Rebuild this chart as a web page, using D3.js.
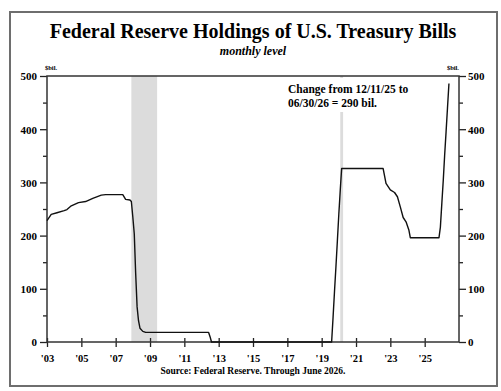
<!DOCTYPE html>
<html>
<head>
<meta charset="utf-8">
<script src="https://cdn.jsdelivr.net/npm/d3@7"></script>
<style>
  body { margin: 0; background: #fff; }
  svg text { font-family: "Liberation Serif", "Times New Roman", serif; font-weight: bold; fill: #000; }
</style>
</head>
<body>
<div id="chart-area"></div>
<script>
// Data -------------------------------------------------
// line vertices (month, $bil.)
const months = [
  "2003-01", "2003-04", "2003-08", "2004-01", "2004-03", "2004-06", "2004-11",
  "2005-04", "2005-09", "2006-03", "2006-06", "2007-06", "2007-08", "2007-11",
  "2007-12", "2008-01", "2008-02", "2008-03", "2008-04", "2008-05", "2008-06",
  "2008-08", "2008-10", "2012-06", "2012-07", "2012-08", "2019-08", "2019-09",
  "2019-10", "2019-11", "2019-12", "2020-01", "2020-02", "2020-03", "2022-08",
  "2022-10", "2023-01", "2023-04", "2023-06", "2023-08", "2023-10", "2023-12",
  "2024-02", "2024-03", "2025-11", "2025-12", "2026-01", "2026-02", "2026-03",
  "2026-04", "2026-05", "2026-06"
]
const holdings = [
  228, 240, 243, 247, 249, 256, 262,
  264, 270, 276, 277, 277, 268, 267,
  264, 235, 203, 130, 66, 40, 26,
  20, 18, 18, 10, 0, 0, 47,
  95, 142, 190, 240, 286, 326, 326,
  298, 286, 281, 273, 254, 234, 226,
  210, 196, 196, 216, 261, 305, 350,
  395, 440, 486
]
// recessions (start, end)
const recessions = [["2007-12", "2009-06"], ["2020-02", "2020-04"]]

const yTicks = [0, 100, 200, 300, 400, 500]
const yMinor = [50, 150, 250, 350, 450]
const xTickYears = [2003, 2005, 2007, 2009, 2011, 2013, 2015, 2017, 2019, 2021, 2023, 2025]

const TITLE = "Federal Reserve Holdings of U.S. Treasury Bills"
const SUBTITLE = "monthly level"
const NOTE = ["Change from 12/11/25 to", "06/30/26 = 290 bil."]
const SOURCE = "Source: Federal Reserve. Through June 2026."

// Canvas setup -----------------------------------------
const W = 501, H = 391
const PLOT = {LEFT: 47, RIGHT: 459, TOP: 76, BOTTOM: 342}

const parse = d3.timeParse("%Y-%m")
const data = months.map((m, i) => ({date: parse(m), value: holdings[i]}))

const svg = d3.select("#chart-area").append("svg")
  .attr("width", W)
  .attr("height", H)

const xScale = d3.scaleTime()
  .domain([new Date(2003, 0, 1), new Date(2027, 0, 1)])
  .range([PLOT.LEFT, PLOT.RIGHT])

const yScale = d3.scaleLinear()
  .domain([0, 500])
  .range([PLOT.BOTTOM, PLOT.TOP])

// outer frame
svg.append("rect")
  .attr("x", 10).attr("y", 12)
  .attr("width", 487).attr("height", 374)
  .attr("fill", "none")
  .attr("stroke", "#6e6e6e")
  .attr("stroke-width", 2)

// Titles -------------------------------------------------
svg.append("text")
  .attr("x", 253).attr("y", 38)
  .attr("text-anchor", "middle")
  .attr("font-size", "20px")
  .text(TITLE)

svg.append("text")
  .attr("x", 253).attr("y", 55)
  .attr("text-anchor", "middle")
  .attr("font-size", "12px")
  .attr("font-style", "italic")
  .text(SUBTITLE)

// Recession shading ----------------------------------
svg.selectAll("rect.recession")
  .data(recessions)
  .enter().append("rect")
  .attr("class", "recession")
  .attr("x", d => xScale(parse(d[0])))
  .attr("y", PLOT.TOP)
  .attr("width", d => xScale(parse(d[1])) - xScale(parse(d[0])))
  .attr("height", PLOT.BOTTOM - PLOT.TOP)
  .attr("fill", "#dcdcdc")

// annotation box (hides top of covid shading)
svg.append("rect")
  .attr("x", 284).attr("y", 78)
  .attr("width", 160).attr("height", 34)
  .attr("fill", "#fff")

svg.append("text")
  .attr("x", 288).attr("y", 93)
  .attr("font-size", "11.5px")
  .selectAll("tspan")
  .data(NOTE)
  .enter().append("tspan")
  .attr("x", 288)
  .attr("dy", (d, i) => i == 0 ? 0 : 14)
  .text(d => d)

// Axes ------------------------------------------------
const styleAxis = sel => {
  sel.select(".domain").remove()
  sel.selectAll("line").attr("stroke", "#222").attr("stroke-width", 1.3)
  sel.selectAll("text")
    .attr("font-size", "11px")
    .attr("fill", "#000")
    .attr("font-family", "Liberation Serif")
    .attr("font-weight", "bold")
}

const yLeft = svg.append("g")
  .attr("transform", `translate(${PLOT.LEFT}, 0)`)
  .call(d3.axisLeft(yScale).tickValues(yTicks).tickSize(7).tickPadding(3))
  .call(styleAxis)
yLeft.selectAll("text").attr("dy", "0.36em")

svg.append("g")
  .attr("transform", `translate(${PLOT.LEFT}, 0)`)
  .call(d3.axisLeft(yScale).tickValues(yMinor).tickSize(4).tickFormat(""))
  .call(styleAxis)

const yRight = svg.append("g")
  .attr("transform", `translate(${PLOT.RIGHT}, 0)`)
  .call(d3.axisRight(yScale).tickValues(yTicks).tickSize(7).tickPadding(2))
  .call(styleAxis)
yRight.selectAll("text").attr("dy", "0.36em")

svg.append("g")
  .attr("transform", `translate(${PLOT.RIGHT}, 0)`)
  .call(d3.axisRight(yScale).tickValues(yMinor).tickSize(4).tickFormat(""))
  .call(styleAxis)

const xAxis = svg.append("g")
  .attr("transform", `translate(0, ${PLOT.BOTTOM})`)
  .call(d3.axisBottom(xScale)
    .tickValues(xTickYears.map(y => new Date(y, 0, 1)))
    .tickFormat(d3.timeFormat("'%y"))
    .tickSize(5))
  .call(styleAxis)
xAxis.selectAll("line").attr("y1", -4)
xAxis.selectAll("text").attr("y", 20).attr("dy", 0).attr("font-size", "10.5px")

// $bil. labels
svg.append("text")
  .attr("x", 45).attr("y", 70)
  .attr("font-size", "6.5px")
  .text("$bil.")

svg.append("text")
  .attr("x", 459).attr("y", 70)
  .attr("text-anchor", "end")
  .attr("font-size", "6.5px")
  .text("$bil.")

// plot frame
svg.append("rect")
  .attr("x", PLOT.LEFT).attr("y", PLOT.TOP)
  .attr("width", PLOT.RIGHT - PLOT.LEFT)
  .attr("height", PLOT.BOTTOM - PLOT.TOP)
  .attr("fill", "none")
  .attr("stroke", "#333")
  .attr("stroke-width", 1.5)

// Series line ----------------------------------------
const line = d3.line()
  .x(d => xScale(d.date))
  .y(d => yScale(d.value))

svg.append("path")
  .datum(data)
  .attr("d", line)
  .attr("fill", "none")
  .attr("stroke", "#111")
  .attr("stroke-width", 1.4)
  .attr("stroke-linejoin", "round")

// Source ------------------------------------------------
svg.append("text")
  .attr("x", 253).attr("y", 374)
  .attr("text-anchor", "middle")
  .attr("font-size", "9.5px")
  .text(SOURCE)
</script>
</body>
</html>
